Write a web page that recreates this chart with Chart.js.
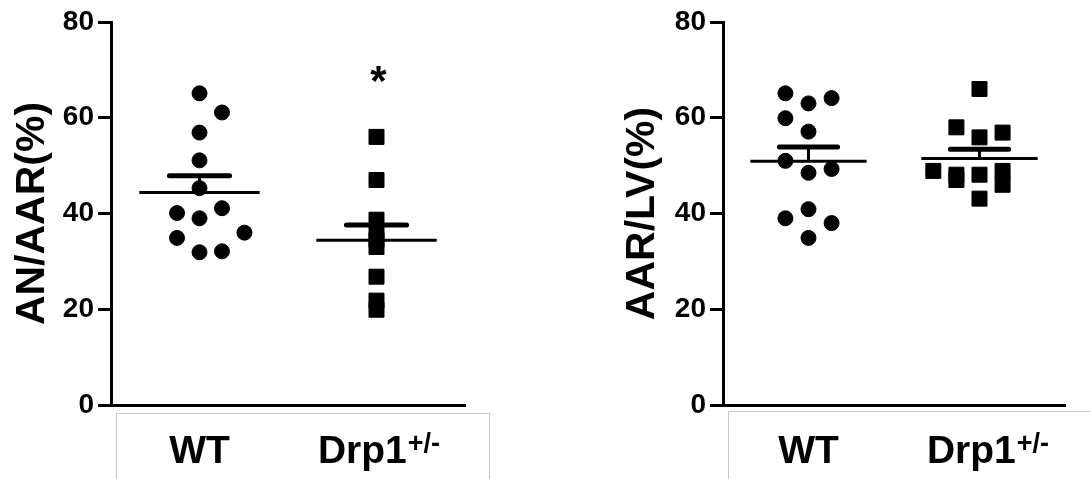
<!DOCTYPE html>
<html>
<head>
<meta charset="utf-8">
<script src="https://cdn.jsdelivr.net/npm/chart.js@4/dist/chart.umd.min.js"></script>
<style>
  html, body { margin: 0; padding: 0; background: #fff; }
  .panel { position: absolute; top: 0; width: 545px; height: 479px; }
</style>
</head>
<body>
<div class="panel" style="left:0"><canvas id="chartAN" width="545" height="479"></canvas></div>
<div class="panel" style="left:545px"><canvas id="chartAAR" width="545" height="479"></canvas></div>
<script>
// groups on the x axis (1 = WT, 2 = Drp1+/-)
var groups = ['WT', 'Drp1'];
var yTicks = [0, 20, 40, 60, 80];

// AN/AAR (%) values, with the column slot each dot sits in
var anWT = [65.1, 61.1, 56.9, 51.1, 45.3, 40.1, 39.0, 41.1, 34.9, 36.0, 31.9, 32.1];
var anWTSlot = [0, 1, 0, 0, 0, -1, 0, 1, -1, 2, 0, 1];
var anDrp = [56.0, 47.0, 38.7, 36.0, 34.5, 33.0, 26.8, 21.8, 19.9];
var anDrpSlot = [0, 0, 0, 0, 0, 0, 0, 0, 0];
var anMean = [44.4, 34.4];
var anSem = [3.5, 3.2];
var anStar = [null, 69.4];

// AAR/LV (%) values
var aarWT = [65.1, 63.0, 64.1, 59.9, 57.1, 51.0, 48.5, 49.3, 40.9, 39.0, 38.0, 34.9];
var aarWTSlot = [-1, 0, 1, -1, 0, -1, 0, 1, 0, -1, 1, 0];
var aarDrp = [66.0, 58.0, 55.9, 56.9, 48.9, 48.1, 47.0, 48.1, 48.9, 46.0, 43.1];
var aarDrpSlot = [0, -1, 0, 1, -2, -1, -1, 0, 1, 1, 0];
var aarMean = [50.9, 51.5];
var aarSem = [3.0, 1.9];
var aarStar = [null, null];

var FONT = 'Arial, "Liberation Sans", Helvetica, sans-serif';

function toPoints(values, slots, group, slotWidth) {
    return values.map(function (v, i) {
        return { x: group + slots[i] * slotWidth, y: v };
    });
}

var decor = {
    id: 'decor',
    afterDatasetsDraw: function (chart, args, opts) {
        var ctx = chart.ctx;
        var xs = chart.scales.x, ys = chart.scales.y;
        function seg(x1, y1, x2, y2) {
            ctx.beginPath();
            ctx.moveTo(x1, y1);
            ctx.lineTo(x2, y2);
            ctx.stroke();
        }
        ctx.save();
        ctx.strokeStyle = '#000';
        opts.mean.forEach(function (m, i) {
            var g = i + 1;
            var yM = ys.getPixelForValue(m);
            var yS = ys.getPixelForValue(m + opts.sem[i]);
            ctx.lineCap = 'butt';
            ctx.lineWidth = 3;
            seg(xs.getPixelForValue(g - 0.34), yM, xs.getPixelForValue(g + 0.34), yM);
            seg(xs.getPixelForValue(g), yM, xs.getPixelForValue(g), yS);
            ctx.lineCap = 'round';
            ctx.lineWidth = 5;
            seg(xs.getPixelForValue(g - 0.17), yS, xs.getPixelForValue(g + 0.17), yS);
        });
        // significance star
        ctx.fillStyle = '#000';
        ctx.textAlign = 'center';
        ctx.textBaseline = 'alphabetic';
        ctx.font = 'bold 42px ' + FONT;
        opts.star.forEach(function (s, i) {
            if (s === null) return;
            ctx.fillText('*', xs.getPixelForValue(i + 1) + 2, ys.getPixelForValue(s) + 22);
        });
        ctx.restore();
    },
    afterDraw: function (chart, args, opts) {
        var ctx = chart.ctx;
        var xs = chart.scales.x, area = chart.chartArea;
        ctx.save();
        // light frame under the axis
        ctx.strokeStyle = '#c8c8c8';
        ctx.lineWidth = 1;
        ctx.strokeRect(area.left + 5.5, area.bottom + opts.boxGap + 0.5, opts.boxWidth, 100);
        // category labels
        ctx.fillStyle = '#000';
        ctx.textBaseline = 'alphabetic';
        var base = area.bottom + 58;
        ctx.textAlign = 'center';
        ctx.font = 'bold 39px ' + FONT;
        ctx.fillText(groups[0], xs.getPixelForValue(1), base);
        ctx.font = 'bold 39px ' + FONT;
        var wMain = ctx.measureText(groups[1]).width;
        ctx.font = 'bold 27px ' + FONT;
        var wSup = ctx.measureText('+/-').width;
        var x0 = xs.getPixelForValue(2) + opts.drpShift - (wMain + wSup) / 2;
        ctx.textAlign = 'left';
        ctx.font = 'bold 39px ' + FONT;
        ctx.fillText(groups[1], x0, base);
        ctx.font = 'bold 27px ' + FONT;
        ctx.fillText('+/-', x0 + wMain + 1, base - 11);
        ctx.restore();
    }
};

function makeChart(id, title, wt, wtSlot, drp, drpSlot, mean, sem, star, layout) {
    var ctx = document.getElementById(id).getContext('2d');
    return new Chart(ctx, {
        type: 'scatter',
        data: {
            datasets: [{
                label: 'WT',
                data: toPoints(wt, wtSlot, 1, layout.slot),
                pointStyle: 'circle',
                pointRadius: 7.5,
                backgroundColor: '#000',
                borderColor: '#000',
                borderWidth: 1
            }, {
                label: 'Drp1+/-',
                data: toPoints(drp, drpSlot, 2, layout.slot),
                pointStyle: 'rect',
                pointRadius: 10.6,
                backgroundColor: '#000',
                borderColor: '#000',
                borderWidth: 1
            }]
        },
        options: {
            responsive: false,
            animation: false,
            devicePixelRatio: 1,
            layout: {
                padding: { top: 22, right: layout.right, left: 0, bottom: 0 }
            },
            scales: {
                x: {
                    type: 'linear',
                    min: 0.5,
                    max: 2.5,
                    grid: { display: false },
                    border: { display: true, color: '#000', width: 3 },
                    ticks: { display: false },
                    afterFit: function (scale) { scale.height = 74; }
                },
                y: {
                    min: 0,
                    max: 80,
                    afterBuildTicks: function (scale) {
                        scale.ticks = yTicks.map(function (v) { return { value: v }; });
                    },
                    grid: {
                        display: true,
                        drawOnChartArea: false,
                        drawTicks: true,
                        tickLength: 13,
                        tickWidth: 3,
                        tickColor: '#000'
                    },
                    border: { display: true, color: '#000', width: 3 },
                    ticks: {
                        color: '#000',
                        padding: 4,
                        font: { family: FONT, size: 28, weight: 'bold' }
                    },
                    title: {
                        display: true,
                        text: title,
                        color: '#000',
                        padding: { top: layout.titlePad, bottom: 0 },
                        font: { family: FONT, size: 41, weight: 'bold' }
                    },
                    afterFit: function (scale) { scale.width = layout.axisX; }
                }
            },
            plugins: {
                legend: { display: false },
                tooltip: { enabled: false },
                decor: {
                    mean: mean,
                    sem: sem,
                    star: star,
                    boxGap: layout.boxGap,
                    boxWidth: layout.boxWidth,
                    drpShift: layout.drpShift
                }
            }
        },
        plugins: [decor]
    });
}

makeChart('chartAN', 'AN/AAR(%)', anWT, anWTSlot, anDrp, anDrpSlot, anMean, anSem, anStar,
    { axisX: 111, right: 80, titlePad: 8, slot: 0.127, boxGap: 8, boxWidth: 373, drpShift: 2 });
makeChart('chartAAR', 'AAR/LV(%)', aarWT, aarWTSlot, aarDrp, aarDrpSlot, aarMean, aarSem, aarStar,
    { axisX: 178, right: 25, titlePad: 73, slot: 0.135, boxGap: 6, boxWidth: 400, drpShift: 8 });
</script>
</body>
</html>
